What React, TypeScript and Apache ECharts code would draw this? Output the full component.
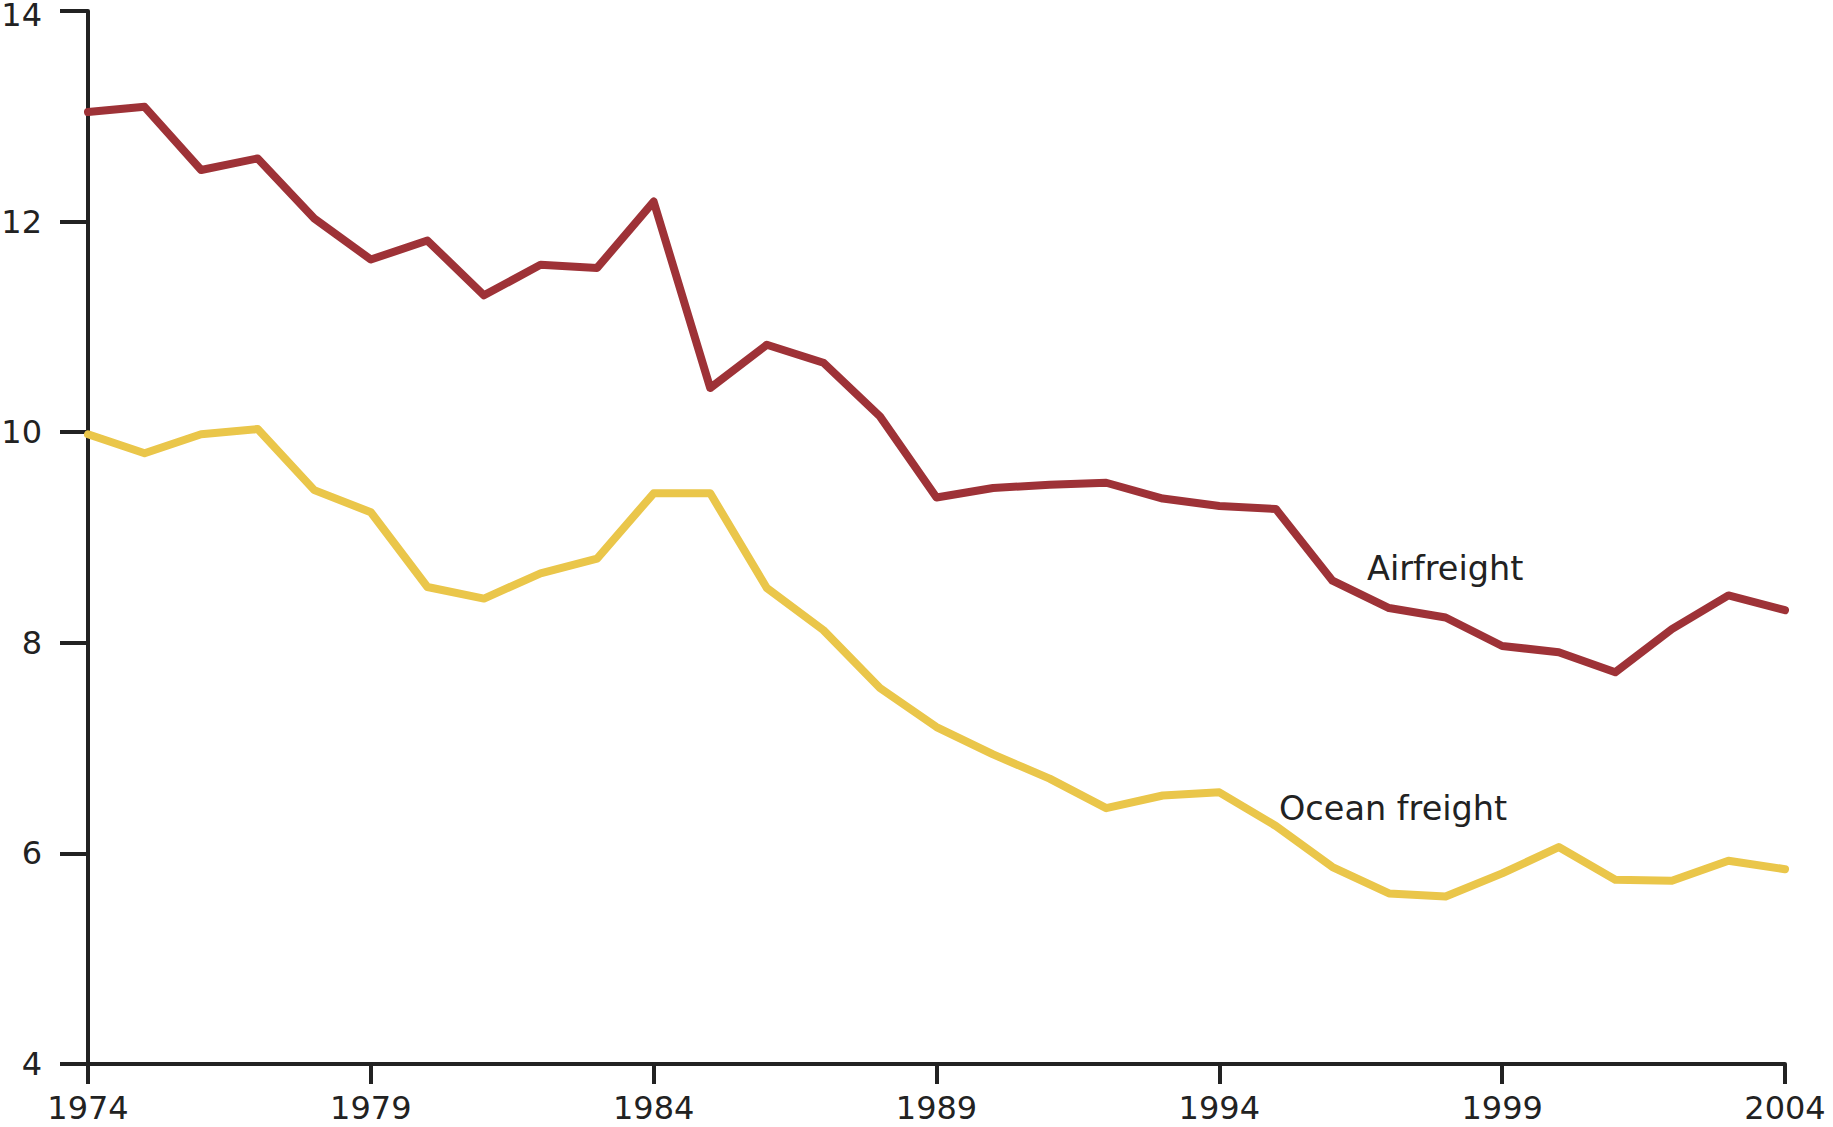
import React, { useEffect, useRef } from "react";
import * as echarts from "echarts";

const years: string[] = [
  "1974", "1975", "1976", "1977", "1978", "1979", "1980", "1981", "1982", "1983",
  "1984", "1985", "1986", "1987", "1988", "1989", "1990", "1991", "1992", "1993",
  "1994", "1995", "1996", "1997", "1998", "1999", "2000", "2001", "2002", "2003", "2004",
];

const airfreight: number[] = [
  13.04, 13.09, 12.49, 12.6, 12.03, 11.64, 11.82, 11.3, 11.59, 11.56,
  12.19, 10.42, 10.83, 10.66, 10.15, 9.38, 9.47, 9.5, 9.52, 9.37,
  9.3, 9.27, 8.59, 8.33, 8.24, 7.97, 7.91, 7.72, 8.13, 8.45, 8.31,
];

const oceanFreight: number[] = [
  9.98, 9.8, 9.98, 10.03, 9.45, 9.24, 8.53, 8.42, 8.66, 8.8,
  9.42, 9.42, 8.52, 8.12, 7.57, 7.2, 6.94, 6.71, 6.43, 6.55,
  6.58, 6.26, 5.87, 5.62, 5.59, 5.81, 6.06, 5.75, 5.74, 5.93, 5.85,
];

const xTickLabels: string[] = ["1974", "1979", "1984", "1989", "1994", "1999", "2004"];

const yMin = 4;
const yMax = 14;
const yStep = 2;

const seriesNames = { air: "Airfreight", ocean: "Ocean freight" };

export default function App() {
  const ref = useRef<HTMLDivElement>(null);

  useEffect(() => {
    if (!ref.current) return;
    const chart = echarts.init(ref.current, null, { renderer: "svg" });
    const font = "'DejaVu Sans', 'Liberation Sans', Arial, sans-serif";
    const ink = "#222222";
    chart.setOption({
      animation: false,
      backgroundColor: "#ffffff",
      grid: {
        left: 88,
        right: 48,
        top: 11,
        bottom: 63,
        containLabel: false,
        outerBoundsMode: "none",
      },
      xAxis: {
        type: "category",
        data: years,
        boundaryGap: false,
        axisLine: { show: true, lineStyle: { color: ink, width: 4 } },
        axisTick: {
          show: true,
          inside: false,
          length: 20,
          lineStyle: { color: ink, width: 4 },
          interval: (idx: number, val: string) => xTickLabels.includes(val),
        },
        axisLabel: {
          interval: (idx: number, val: string) => xTickLabels.includes(val),
          color: ink,
          fontSize: 32,
          lineHeight: 28,
          fontFamily: font,
          margin: 30,
          showMaxLabel: true,
          showMinLabel: true,
        },
        splitLine: { show: false },
      },
      yAxis: {
        type: "value",
        min: yMin,
        max: yMax,
        interval: yStep,
        axisLine: { show: true, lineStyle: { color: ink, width: 4 } },
        axisTick: { show: true, inside: false, length: 28, lineStyle: { color: ink, width: 4 } },
        axisLabel: {
          color: ink,
          fontSize: 32,
          lineHeight: 22,
          fontFamily: font,
          margin: 46,
          formatter: (v: number) => (v === yMax ? `{top|${v}}` : `${v}`),
          rich: {
            top: {
              color: ink,
              fontSize: 32,
              lineHeight: 22,
              fontFamily: font,
              padding: [7, 0, 0, 0],
            },
          },
        },
        splitLine: { show: false },
      },
      series: [
        {
          name: seriesNames.air,
          type: "line",
          data: airfreight,
          showSymbol: false,
          symbol: "none",
          lineStyle: { color: "#9E3237", width: 8, join: "round", cap: "round" },
          z: 3,
        },
        {
          name: seriesNames.ocean,
          type: "line",
          data: oceanFreight,
          showSymbol: false,
          symbol: "none",
          lineStyle: { color: "#EAC64A", width: 8, join: "round", cap: "round" },
          z: 2,
        },
      ],
      graphic: [
        {
          type: "text",
          left: 1367,
          top: 551,
          style: { text: seriesNames.air, fill: ink, fontSize: 33.5, fontFamily: font },
        },
        {
          type: "text",
          left: 1279,
          top: 791,
          style: { text: seriesNames.ocean, fill: ink, fontSize: 33.5, fontFamily: font },
        },
      ],
    });
    return () => chart.dispose();
  }, []);

  return (
    <div
      ref={ref}
      style={{ width: 1833, height: 1127, position: "absolute", left: 0, top: 0, background: "#fff" }}
    />
  );
}
